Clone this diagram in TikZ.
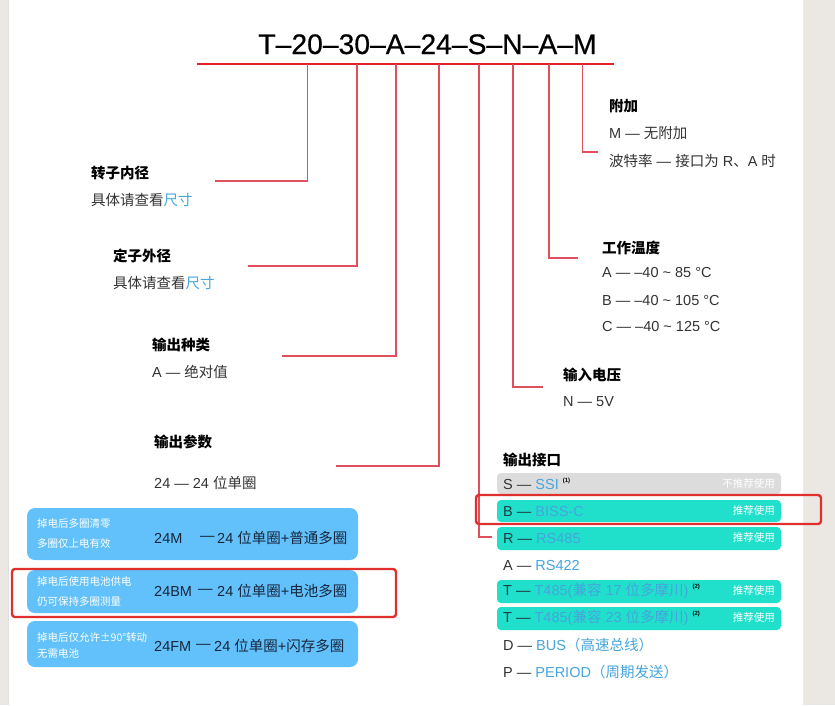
\documentclass[tikz,border=0pt]{standalone}
\usepackage{fontspec}
\setmainfont{Liberation Sans}
\newfontfamily\zh{Noto Sans CJK SC}
\newfontfamily\titlefont[FakeBold=0.5]{Liberation Sans}
\definecolor{edgegray}{HTML}{EBE8E4}
\definecolor{bodygray}{HTML}{333333}
\definecolor{lblue}{HTML}{45A5DC}
\definecolor{tealbg}{HTML}{20E0CC}
\definecolor{boxblue}{HTML}{62C1FA}
\definecolor{greybox}{HTML}{DCDCDC}
\definecolor{connred}{HTML}{E0505C}
\definecolor{barred}{HTML}{E42028}
\definecolor{hired}{HTML}{E0302E}
\definecolor{navy}{HTML}{17263D}
\definecolor{tealtext}{HTML}{1F3A40}
\newcommand{\Z}[1]{{\zh #1}}
\newcommand{\sups}[1]{\raisebox{0.5em}{\fontsize{6}{6}\selectfont\bfseries\color{black}(#1)}}
\begin{document}
\begin{tikzpicture}[x=1pt,y=-1pt,
  lbl/.style={anchor=west,inner sep=0pt,font=\fontsize{14.5}{17}\selectfont,text=bodygray},
  hdr/.style={anchor=west,inner sep=0pt,font=\zh\bfseries\fontsize{14.5}{17}\selectfont,text=black},
  small/.style={anchor=west,inner sep=0pt,font=\zh\fontsize{10.5}{12}\selectfont,text=white},
  tag/.style={anchor=east,inner sep=0pt,font=\zh\fontsize{10.5}{12}\selectfont,text=white},
  big/.style={anchor=west,inner sep=0pt,font=\fontsize{14.5}{17}\selectfont,text=navy},
  conn/.style={draw=connred,line width=1.3pt},
  bar/.style={draw=barred,line width=2.6pt},
  hilite/.style={draw=hired,line width=2.4pt,rounded corners=3pt},
  tealrow/.style={fill=tealbg,rounded corners=4pt},
  greyrow/.style={fill=greybox,rounded corners=4pt},
  bluebox/.style={fill=boxblue,rounded corners=8pt}]
\useasboundingbox (0,0) rectangle (835,705);
\fill[edgegray] (0,0) rectangle (835,705);
\fill[white] (8,0) rectangle (803,705);
\draw[black!12,line width=0.6pt] (8,0) -- (8,705);
\draw[black!8,line width=0.6pt] (803,0) -- (803,705);

% title and bar
\node[anchor=base,inner sep=0pt,font=\titlefont\fontsize{28.3}{30}\selectfont] (title) at (427.5,54) {T–20–30–A–24–S–N–A–M};
\coordinate (barL) at (197,64);
\coordinate (barR) at (614,64);
\draw[bar] (barL) -- (barR);

% connectors
\coordinate (t1) at (307.5,64); \coordinate (e1) at (215,181);
\coordinate (t2) at (357,64);   \coordinate (e2) at (248,266);
\coordinate (t3) at (396,64);   \coordinate (e3) at (282,356);
\coordinate (t4) at (439,64);   \coordinate (e4) at (336,466);
\coordinate (t5) at (479,64);   \coordinate (e5) at (492,537);
\coordinate (t6) at (513,64);   \coordinate (e6) at (543,387);
\coordinate (t7) at (549,64);   \coordinate (e7) at (578,258);
\coordinate (t8) at (582.5,64); \coordinate (e8) at (598,152);
\foreach \i in {1,...,8} {\draw[conn] (t\i) |- (e\i);}

% left labels
\node[hdr] (h1) at (91,173) {转子内径};
\node[lbl] (d1) at (91,200) {\Z{具体请查看}\textcolor{lblue}{\Z{尺寸}}};
\node[hdr] (h2) at (113,256) {定子外径};
\node[lbl] (d2) at (113,283) {\Z{具体请查看}\textcolor{lblue}{\Z{尺寸}}};
\node[hdr] (h3) at (152,345) {输出种类};
\node[lbl] (d3) at (152,372) {A — \Z{绝对值}};
\node[hdr] (h4) at (154,442) {输出参数};
\node[lbl] (d4) at (154,483) {24 — 24 \Z{位单圈}};

% right labels
\node[hdr] (h8) at (609,106) {附加};
\node[lbl] (d8a) at (609,133) {M — \Z{无附加}};
\node[lbl] (d8b) at (609,161) {\Z{波特率} — \Z{接口为} R\Z{、}A \Z{时}};
\node[hdr] (h7) at (602,248) {工作温度};
\node[lbl] (d7a) at (602,273) {A — –40 \textasciitilde\ 85 °C};
\node[lbl] (d7b) at (602,301) {B — –40 \textasciitilde\ 105 °C};
\node[lbl] (d7c) at (602,327) {C — –40 \textasciitilde\ 125 °C};
\node[hdr] (h6) at (563,375) {输入电压};
\node[lbl] (d6) at (563,402) {N — 5V};

% output interface
\node[hdr] (h5) at (503,460) {输出接口};
\fill[greyrow] (497,473) rectangle (781,494);
\fill[tealrow] (497,500) rectangle (781,522);
\fill[tealrow] (497,527) rectangle (781,550);
\fill[tealrow] (497,580) rectangle (781,603);
\fill[tealrow] (497,607) rectangle (781,630);
\node[lbl] (rS) at (503,484) {S — \textcolor{lblue}{SSI} \sups{1}};
\node[lbl,text=tealtext] (rB) at (503,511) {B — \textcolor{lblue}{BISS-C}};
\node[lbl,text=tealtext] (rR) at (503,538) {R — \textcolor{lblue}{RS485}};
\node[lbl] (rA) at (503,565) {A — \textcolor{lblue}{RS422}};
\node[lbl,text=tealtext] (rT1) at (503,591) {T — \textcolor{lblue}{T485(\Z{兼容} 17 \Z{位多摩川})} \sups{2}};
\node[lbl,text=tealtext] (rT2) at (503,618) {T — \textcolor{lblue}{T485(\Z{兼容} 23 \Z{位多摩川})} \sups{2}};
\node[lbl] (rD) at (503,645) {D — \textcolor{lblue}{BUS\Z{（高速总线）}}};
\node[lbl] (rP) at (503,672) {P — \textcolor{lblue}{PERIOD\Z{（周期发送）}}};
\node[tag] (gS) at (775,484) {不推荐使用};
\node[tag] (gB) at (775,511) {推荐使用};
\node[tag] (gR) at (775,538) {推荐使用};
\node[tag] (gT1) at (775,591) {推荐使用};
\node[tag] (gT2) at (775,618) {推荐使用};

% multi-turn boxes
\fill[bluebox] (27,508) rectangle (358,560);
\fill[bluebox] (27,570) rectangle (358,613);
\fill[bluebox] (27,621) rectangle (358,667);
\node[small] (s1a) at (37,524) {掉电后多圈清零};
\node[small] (s1b) at (37,544) {多圈仅上电有效};
\node[small] (s2a) at (37,582) {掉电后使用电池供电};
\node[small] (s2b) at (37,602) {仍可保持多圈测量};
\node[small] (s3a) at (37,637) {掉电后仅允许±90°转动};
\node[small] (s3b) at (37,654) {无需电池};
\node[big] (m1) at (154,538) {24M};
\node[big] (m1d) at (200,538) {—};
\node[big] (m1t) at (217,538) {24 \Z{位单圈}+\Z{普通多圈}};
\node[big] (m2) at (154,591) {24BM};
\node[big] (m2d) at (198,591) {—};
\node[big] (m2t) at (217,591) {24 \Z{位单圈}+\Z{电池多圈}};
\node[big] (m3) at (154,646) {24FM};
\node[big] (m3d) at (196,646) {—};
\node[big] (m3t) at (214,646) {24 \Z{位单圈}+\Z{闪存多圈}};

% highlights
\draw[hilite] (476,495) rectangle (821,524);
\draw[hilite] (12,569) rectangle (396,617);
\end{tikzpicture}
\end{document}
